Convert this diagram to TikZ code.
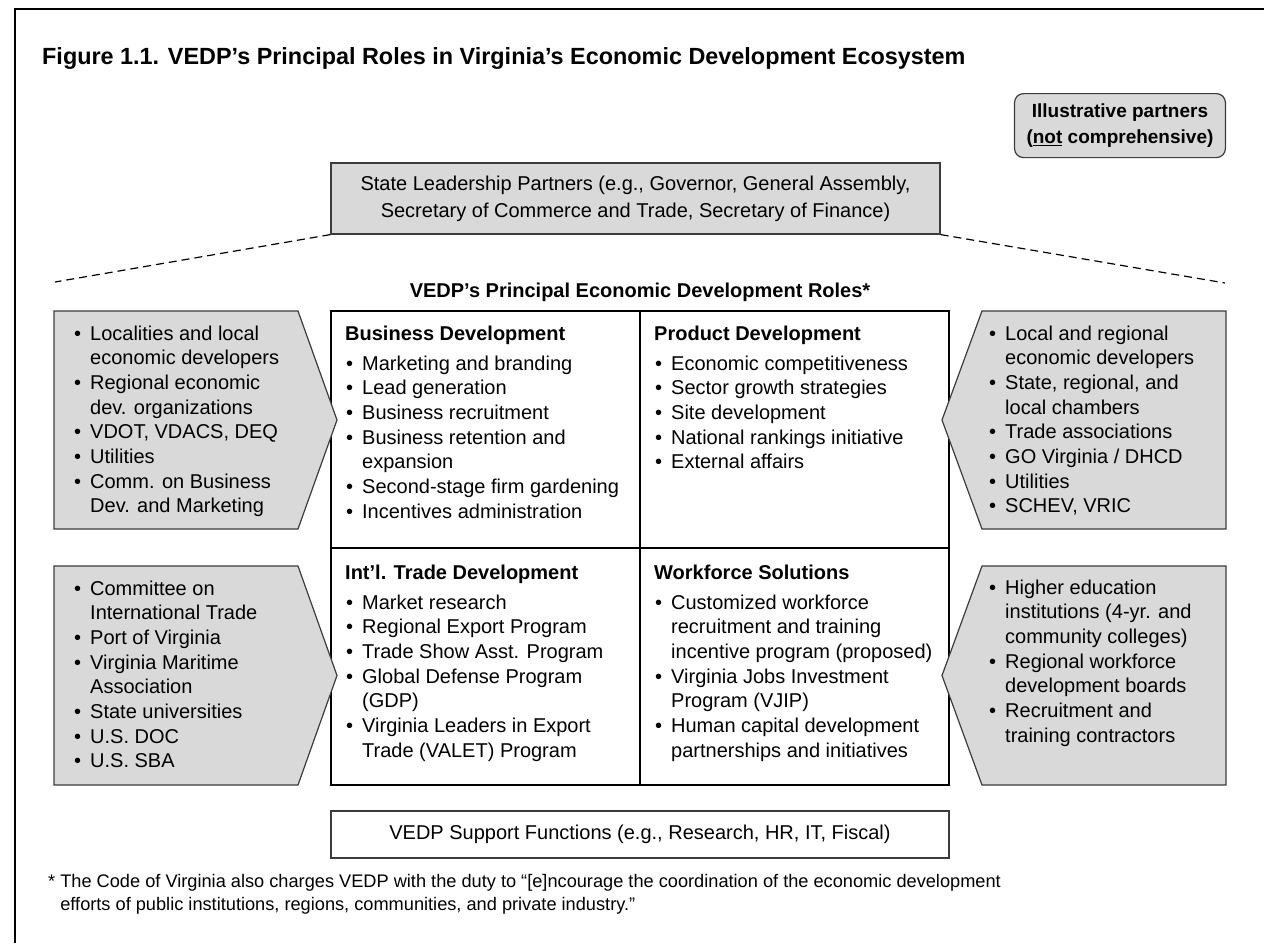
\documentclass[tikz,border=0pt]{standalone}
\usepackage{fontspec}
\setmainfont{Liberation Sans}
\usepackage{tikz}
\usetikzlibrary{positioning}
\definecolor{partnergray}{RGB}{217, 217, 217}
\definecolor{edgegray}{RGB}{60, 60, 60}
\newcommand{\bodyfont}{\fontsize{20}{24.7}\selectfont}
\newcommand{\bu}{\makebox[16pt][l]{\textbullet}}
\newcommand{\blist}[1]{\begin{tabular}[t]{@{}l@{}l@{}}#1\end{tabular}}

\begin{document}
\begin{tikzpicture}[x=1pt, y=-1pt,
  greybox/.style={draw=edgegray, fill=partnergray, line width=1.2pt},
  listnode/.style={anchor=base west, inner sep=0pt, font=\bodyfont},
  headnode/.style={anchor=base west, inner sep=0pt, font=\bfseries\bodyfont}]
\useasboundingbox (0,0) rectangle (1264,943);
\draw[line width=1.5pt] (15,943) |- (1264,9);

\node[anchor=base west, inner sep=0pt, font=\bfseries\fontsize{23.4}{28}\selectfont] (title) at (42,64) {Figure 1.1. VEDP’s Principal Roles in Virginia’s Economic Development Ecosystem};

\node[greybox, rounded corners=9pt, anchor=north east, minimum height=64pt, inner xsep=12pt, align=center, font=\bfseries\fontsize{19}{26}\selectfont] (partnersnote) at (1226,93) {Illustrative partners\\(\underline{not} comprehensive)};

\node[greybox, minimum width=609pt, minimum height=71pt, align=center, font=\fontsize{20}{27}\selectfont] (state) at (635.5,198.5) {State Leadership Partners (e.g., Governor, General Assembly,\\Secretary of Commerce and Trade, Secretary of Finance)};
\coordinate (leftend) at (55,282);
\coordinate (rightend) at (1225,283);
\draw[line width=1.2pt, dash pattern=on 8pt off 5pt] (state.south west) -- (leftend);
\draw[line width=1.2pt, dash pattern=on 8pt off 5pt] (state.south east) -- (rightend);

\node[anchor=base, font=\bfseries\fontsize{20}{24}\selectfont] (rolestitle) at (640,297) {VEDP’s Principal Economic Development Roles*};

\node[draw, line width=1.5pt, minimum width=618pt, minimum height=474pt, inner sep=0pt] (roles) at (640,548) {};
\draw[line width=1.5pt] (roles.north) -- (roles.south);
\draw[line width=1.5pt] (roles.west) -- (roles.east);

\node[headnode] (bizhead) at (345,340) {Business Development};
\node[listnode] (bizlist) at (346,370) {\blist{\bu & Marketing and branding\\ \bu & Lead generation\\ \bu & Business recruitment\\ \bu & Business retention and\\ & expansion\\ \bu & Second-stage firm gardening\\ \bu & Incentives administration}};
\node[headnode] (prodhead) at (654,340) {Product Development};
\node[listnode] (prodlist) at (655,370) {\blist{\bu & Economic competitiveness\\ \bu & Sector growth strategies\\ \bu & Site development\\ \bu & National rankings initiative\\ \bu & External affairs}};
\node[headnode] (tradehead) at (345,579) {Int’l. Trade Development};
\node[listnode] (tradelist) at (346,609) {\blist{\bu & Market research\\ \bu & Regional Export Program\\ \bu & Trade Show Asst. Program\\ \bu & Global Defense Program\\ & (GDP)\\ \bu & Virginia Leaders in Export\\ & Trade (VALET) Program}};
\node[headnode] (workhead) at (654,579) {Workforce Solutions};
\node[listnode] (worklist) at (655,609) {\blist{\bu & Customized workforce\\ & recruitment and training\\ & incentive program (proposed)\\ \bu & Virginia Jobs Investment\\ & Program (VJIP)\\ \bu & Human capital development\\ & partnerships and initiatives}};

\draw[greybox] (54,311) -- (298,311) -- (337,420) -- (298,529) -- (54,529) -- cycle;
\draw[greybox] (54,566) -- (298,566) -- (337,675.5) -- (298,785) -- (54,785) -- cycle;
\draw[greybox] (1226,311) -- (982,311) -- (942,420) -- (982,529) -- (1226,529) -- cycle;
\draw[greybox] (1226,566) -- (982,566) -- (942,675.5) -- (982,785) -- (1226,785) -- cycle;

\node[listnode] (localpartners) at (74,340) {\blist{\bu & Localities and local\\ & economic developers\\ \bu & Regional economic\\ & dev. organizations\\ \bu & VDOT, VDACS, DEQ\\ \bu & Utilities\\ \bu & Comm. on Business\\ & Dev. and Marketing}};
\node[listnode] (tradepartners) at (74,595) {\blist{\bu & Committee on\\ & International Trade\\ \bu & Port of Virginia\\ \bu & Virginia Maritime\\ & Association\\ \bu & State universities\\ \bu & U.S. DOC\\ \bu & U.S. SBA}};
\node[listnode] (regionpartners) at (989,340) {\blist{\bu & Local and regional\\ & economic developers\\ \bu & State, regional, and\\ & local chambers\\ \bu & Trade associations\\ \bu & GO Virginia / DHCD\\ \bu & Utilities\\ \bu & SCHEV, VRIC}};
\node[listnode] (workpartners) at (989,594) {\blist{\bu & Higher education\\ & institutions (4-yr. and\\ & community colleges)\\ \bu & Regional workforce\\ & development boards\\ \bu & Recruitment and\\ & training contractors}};

\node[draw=edgegray, line width=1.2pt, minimum width=618pt, minimum height=47pt, font=\bodyfont] (support) at (640,834.5) {VEDP Support Functions (e.g., Research, HR, IT, Fiscal)};

\node[anchor=base west, inner sep=0pt, align=left, font=\fontsize{18.2}{23}\selectfont] (footnote) at (48,910) {* The Code of Virginia also charges VEDP with the duty to “[e]ncourage the coordination of the economic development\\\phantom{* }efforts of public institutions, regions, communities, and private industry.”};
\end{tikzpicture}
\end{document}
